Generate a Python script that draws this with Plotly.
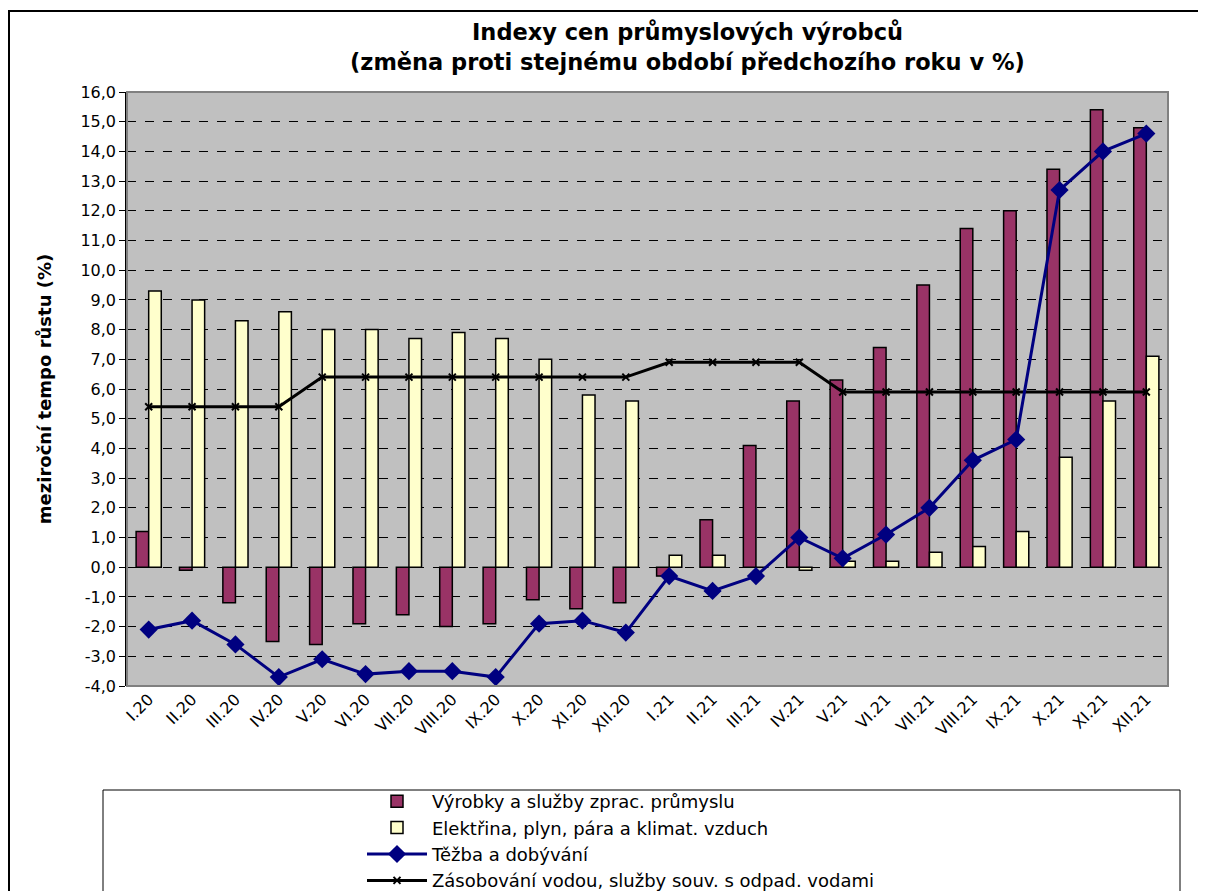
import plotly.graph_objects as go

months = ["I.20", "II.20", "III.20", "IV.20", "V.20", "VI.20", "VII.20", "VIII.20", "IX.20", "X.20", "XI.20", "XII.20",
          "I.21", "II.21", "III.21", "IV.21", "V.21", "VI.21", "VII.21", "VIII.21", "IX.21", "X.21", "XI.21", "XII.21"]

vyrobky = [1.2, -0.1, -1.2, -2.5, -2.6, -1.9, -1.6, -2.0, -1.9, -1.1, -1.4, -1.2,
           -0.3, 1.6, 4.1, 5.6, 6.3, 7.4, 9.5, 11.4, 12.0, 13.4, 15.4, 14.8]
elektrina = [9.3, 9.0, 8.3, 8.6, 8.0, 8.0, 7.7, 7.9, 7.7, 7.0, 5.8, 5.6,
             0.4, 0.4, 0.0, -0.1, 0.2, 0.2, 0.5, 0.7, 1.2, 3.7, 5.6, 7.1]
tezba = [-2.1, -1.8, -2.6, -3.7, -3.1, -3.6, -3.5, -3.5, -3.7, -1.9, -1.8, -2.2,
         -0.3, -0.8, -0.3, 1.0, 0.3, 1.1, 2.0, 3.6, 4.3, 12.7, 14.0, 14.6]
zasobovani = [5.4, 5.4, 5.4, 5.4, 6.4, 6.4, 6.4, 6.4, 6.4, 6.4, 6.4, 6.4,
              6.9, 6.9, 6.9, 6.9, 5.9, 5.9, 5.9, 5.9, 5.9, 5.9, 5.9, 5.9]

y_ticks = list(range(-4, 17))
y_labels = [f"{v:.1f}".replace(".", ",") for v in y_ticks]

title_lines = ["Indexy cen průmyslových výrobců",
               "(změna proti stejnému období předchozího roku v %)"]

FONT = "DejaVu Sans, Arial, Liberation Sans, sans-serif"

fig = go.Figure()
fig.add_trace(go.Bar(x=months, y=vyrobky, name="Výrobky a služby zprac. průmyslu",
                     marker=dict(color="#993366", line=dict(color="black", width=1.5)), legendrank=1))
fig.add_trace(go.Bar(x=months, y=elektrina, name="Elektřina, plyn, pára a klimat. vzduch",
                     marker=dict(color="#FFFFCC", line=dict(color="black", width=1.5)), legendrank=2))
fig.add_trace(go.Scatter(x=months, y=zasobovani, name="Zásobování vodou, služby souv. s odpad. vodami",
                         mode="lines+markers", line=dict(color="black", width=3),
                         marker=dict(symbol="x-thin-open", size=7, color="black", line=dict(color="black", width=2)),
                         legendrank=4))
fig.add_trace(go.Scatter(x=months, y=tezba, name="Těžba a dobývání",
                         mode="lines+markers", line=dict(color="#000080", width=3),
                         marker=dict(symbol="diamond", size=14, color="#000080"), legendrank=3))

n = len(months)
boundaries = [i + 0.5 for i in range(n - 1)]

# page has an 8px body margin: screen = figure + 8
OFF = 8
W, H = 1206, 891
L, T = 127 - OFF, 92 - OFF
PLOT_R = 1168 - OFF
B = H - (686 - OFF)
R = 0  # keeps plotly's auto-margin padding at zero; plot width set by domain
pw = W - L - R
ph = H - T - B
x_dom_end = (PLOT_R - L) / pw


def px_x(p):  # screen x -> paper
    return (p - OFF - L) / pw


def px_y(p):  # screen y -> paper
    return (H - B - (p - OFF)) / ph


annotations = [
    dict(text=f"<b>{title_lines[0]}</b>", xref="paper", yref="paper", x=px_x(687), y=px_y(32),
         xanchor="center", yanchor="middle", showarrow=False, font=dict(size=22.5, family=FONT)),
    dict(text=f"<b>{title_lines[1]}</b>", xref="paper", yref="paper", x=px_x(687), y=px_y(62),
         xanchor="center", yanchor="middle", showarrow=False, font=dict(size=22.5, family=FONT)),
]

fig.update_layout(
    width=W, height=H,
    margin=dict(l=L, r=R, t=T, b=B),
    paper_bgcolor="white",
    plot_bgcolor="#C0C0C0",
    font=dict(family=FONT, color="black", size=16),
    barmode="group", bargap=0.42, bargroupgap=0.0,
    annotations=annotations,
    xaxis=dict(type="category", categoryorder="array", categoryarray=months, domain=[0, x_dom_end],
               tickangle=-45, ticks="", showgrid=False, showline=False, automargin=False,
               tickfont=dict(size=16), range=[-0.5, n - 0.5]),
    xaxis2=dict(overlaying="x", anchor="free", position=4 / 20, range=[-0.5, n - 0.5],
                domain=[0, x_dom_end],
                tickvals=boundaries, ticks="outside", ticklen=5, tickwidth=1, tickcolor="black",
                showticklabels=False, showline=True, linecolor="black", linewidth=1.5,
                showgrid=False, zeroline=False, automargin=False),
    yaxis=dict(range=[-4, 16], tickvals=y_ticks, ticktext=y_labels, automargin=False,
               showgrid=True, gridcolor="black", griddash="dash", gridwidth=1,
               zeroline=False, showline=True, linecolor="black", linewidth=1.5,
               ticks="outside", ticklen=6, tickcolor="black",
               title=dict(text="<b>meziroční tempo růstu (%)</b>", font=dict(size=18), standoff=24),
               tickfont=dict(size=16)),
    legend=dict(x=px_x(362), xanchor="left", y=px_y(783), yanchor="top",
                bgcolor="rgba(0,0,0,0)", font=dict(size=18, family=FONT), traceorder="normal",
                itemwidth=60, tracegroupgap=0),
    showlegend=True,
    shapes=[
        dict(type="rect", xref="x domain", yref="y domain", x0=0, x1=1, y0=0, y1=1,
             line=dict(color="#808080", width=2), layer="above"),
        dict(type="rect", xref="paper", yref="paper", x0=px_x(103), x1=px_x(1180),
             y0=px_y(790), y1=px_y(960), line=dict(color="black", width=1)),
        dict(type="rect", xref="paper", yref="paper", x0=px_x(9), x1=px_x(1260),
             y0=px_y(11), y1=px_y(1000), line=dict(color="black", width=2)),
    ],
)

fig.write_html("out.html")
